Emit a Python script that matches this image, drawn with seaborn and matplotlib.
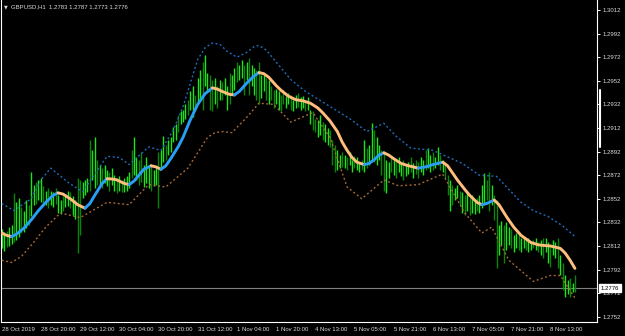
import numpy as np
import pandas as pd
import matplotlib
matplotlib.use("Agg")
import matplotlib.pyplot as plt
import seaborn as sns

# ---------------- data ----------------
symbol_text = "GBPUSD,H1  1.2783 1.2787 1.2773 1.2776"
last_price = 1.2776

highs = [
    1.2826, 1.2824, 1.2825, 1.2828, 1.2830, 1.2857, 1.2849, 1.2853, 1.2845, 1.2842,
    1.2851, 1.2847, 1.2875, 1.2864, 1.2866, 1.2868, 1.2870, 1.2863, 1.2859, 1.2861,
    1.2859, 1.2858, 1.2861, 1.2855, 1.2851, 1.2854, 1.2856, 1.2859, 1.2858, 1.2854,
    1.2851, 1.2870, 1.2868, 1.2866, 1.2868, 1.2870, 1.2902, 1.2893, 1.2904, 1.2885,
    1.2881, 1.2878, 1.2881, 1.2876, 1.2875, 1.2878, 1.2872, 1.2870, 1.2871, 1.2868,
    1.2870, 1.2871, 1.2875, 1.2893, 1.2904, 1.2887, 1.2885, 1.2892, 1.2881, 1.2887,
    1.2879, 1.2881, 1.2876, 1.2878, 1.2892, 1.2893, 1.2905, 1.2898, 1.2902, 1.2904,
    1.2913, 1.2915, 1.2923, 1.2926, 1.2927, 1.2932, 1.2936, 1.2943, 1.2948, 1.2940,
    1.2954, 1.2961, 1.2968, 1.2974, 1.2959, 1.2957, 1.2953, 1.2954, 1.2948, 1.2953,
    1.2951, 1.2954, 1.2948, 1.2959, 1.2957, 1.2963, 1.2968, 1.2965, 1.2970, 1.2965,
    1.2968, 1.2971, 1.2965, 1.2963, 1.2961, 1.2968, 1.2957, 1.2959, 1.2954, 1.2953,
    1.2948, 1.2944, 1.2945, 1.2943, 1.2940, 1.2944, 1.2939, 1.2942, 1.2940, 1.2936,
    1.2940, 1.2942, 1.2938, 1.2939, 1.2936, 1.2938, 1.2927, 1.2926, 1.2920, 1.2919,
    1.2923, 1.2917, 1.2915, 1.2912, 1.2910, 1.2902, 1.2898, 1.2893, 1.2889, 1.2892,
    1.2889, 1.2887, 1.2892, 1.2885, 1.2888, 1.2887, 1.2883, 1.2885, 1.2902, 1.2895,
    1.2898, 1.2916, 1.2910, 1.2904, 1.2898, 1.2893, 1.2892, 1.2885, 1.2883, 1.2887,
    1.2885, 1.2883, 1.2887, 1.2882, 1.2885, 1.2881, 1.2883, 1.2887, 1.2882, 1.2885,
    1.2883, 1.2887, 1.2885, 1.2893, 1.2895, 1.2889, 1.2892, 1.2887, 1.2896, 1.2889,
    1.2885, 1.2883, 1.2872, 1.2868, 1.2864, 1.2861, 1.2864, 1.2859, 1.2858, 1.2855,
    1.2858, 1.2853, 1.2855, 1.2851, 1.2853, 1.2855, 1.2864, 1.2874, 1.2868, 1.2875,
    1.2864, 1.2855, 1.2851, 1.2830, 1.2833, 1.2830, 1.2832, 1.2828, 1.2826, 1.2821,
    1.2823, 1.2821, 1.2819, 1.2820, 1.2817, 1.2819, 1.2815, 1.2817, 1.2819, 1.2815,
    1.2817, 1.2819, 1.2819, 1.2815, 1.2813, 1.2817, 1.2815, 1.2819, 1.2804, 1.2798,
    1.2787, 1.2783, 1.2785, 1.2781, 1.2787,
]

lows = [
    1.2810, 1.2808, 1.2811, 1.2812, 1.2814, 1.2815, 1.2817, 1.2820, 1.2823, 1.2824,
    1.2827, 1.2830, 1.2837, 1.2847, 1.2848, 1.2851, 1.2849, 1.2846, 1.2847, 1.2844,
    1.2847, 1.2845, 1.2848, 1.2840, 1.2839, 1.2842, 1.2845, 1.2846, 1.2844, 1.2838,
    1.2835, 1.2806, 1.2821, 1.2853, 1.2855, 1.2858, 1.2859, 1.2868, 1.2861, 1.2864,
    1.2864, 1.2861, 1.2865, 1.2863, 1.2859, 1.2864, 1.2859, 1.2857, 1.2859, 1.2858,
    1.2858, 1.2859, 1.2861, 1.2870, 1.2872, 1.2868, 1.2864, 1.2866, 1.2862, 1.2865,
    1.2861, 1.2859, 1.2863, 1.2864, 1.2844, 1.2878, 1.2883, 1.2885, 1.2889, 1.2892,
    1.2900, 1.2902, 1.2909, 1.2915, 1.2917, 1.2920, 1.2923, 1.2927, 1.2921, 1.2926,
    1.2932, 1.2936, 1.2927, 1.2948, 1.2944, 1.2927, 1.2926, 1.2932, 1.2929, 1.2936,
    1.2936, 1.2940, 1.2927, 1.2932, 1.2940, 1.2944, 1.2951, 1.2953, 1.2954, 1.2940,
    1.2953, 1.2940, 1.2948, 1.2940, 1.2936, 1.2932, 1.2937, 1.2943, 1.2936, 1.2932,
    1.2936, 1.2929, 1.2932, 1.2927, 1.2926, 1.2932, 1.2929, 1.2932, 1.2927, 1.2926,
    1.2929, 1.2930, 1.2927, 1.2929, 1.2926, 1.2927, 1.2915, 1.2910, 1.2909, 1.2904,
    1.2906, 1.2902, 1.2900, 1.2898, 1.2896, 1.2881, 1.2875, 1.2876, 1.2878, 1.2879,
    1.2878, 1.2876, 1.2881, 1.2875, 1.2878, 1.2876, 1.2875, 1.2876, 1.2875, 1.2878,
    1.2881, 1.2885, 1.2883, 1.2881, 1.2885, 1.2872, 1.2859, 1.2857, 1.2870, 1.2875,
    1.2872, 1.2870, 1.2875, 1.2871, 1.2868, 1.2871, 1.2873, 1.2875, 1.2870, 1.2873,
    1.2870, 1.2875, 1.2872, 1.2876, 1.2878, 1.2875, 1.2876, 1.2878, 1.2881, 1.2876,
    1.2875, 1.2870, 1.2855, 1.2842, 1.2847, 1.2851, 1.2853, 1.2847, 1.2840, 1.2838,
    1.2842, 1.2838, 1.2840, 1.2839, 1.2842, 1.2840, 1.2844, 1.2847, 1.2851, 1.2842,
    1.2847, 1.2834, 1.2793, 1.2804, 1.2813, 1.2798, 1.2809, 1.2813, 1.2810, 1.2807,
    1.2810, 1.2809, 1.2807, 1.2810, 1.2809, 1.2807, 1.2809, 1.2810, 1.2809, 1.2807,
    1.2804, 1.2802, 1.2807, 1.2798, 1.2794, 1.2804, 1.2802, 1.2793, 1.2787, 1.2775,
    1.2769, 1.2771, 1.2769, 1.2773, 1.2773,
]

# u = bar up (lime), d = bar down (green)
bar_dir = "".join([
    "uuduuduudu", "uduuduudud", "uuduuduudu", "udduuuduud", "uduuduudud",
    "uuuduudduu", "uduuduuduu", "uuduuuduud", "uuduuddudu", "duuduuduud",
    "uduudduudu", "dduudduudu", "uduuduuddu", "uduuddduud", "uduuduudud",
    "uuduudduud", "uduuduudud", "duuduuduud", "udduduudud", "uduuduuudd",
    "udduuduudu", "uduuduudud", "uduuduudud", "uudud",
])

mid_idx = [0, 2, 4, 6, 9, 12, 15, 18, 21, 23, 25, 28, 31, 34, 36, 38, 41, 43, 45, 47,
           50, 52, 54, 56, 58, 61, 63, 65, 67, 69, 72, 74, 77, 80, 83, 86, 88, 90, 93, 95,
           97, 100, 103, 105, 107, 109, 112, 114, 117, 120, 123, 126, 129, 131, 134, 137,
           139, 141, 143, 145, 148, 150, 152, 154, 156, 158, 160, 163, 166, 170, 173, 176,
           180, 182, 184, 186, 189, 191, 194, 196, 198, 201, 203, 206, 209, 212, 214, 216,
           219, 221, 224, 226, 228, 230, 232, 234]
mid_val = [1.2823, 1.2821, 1.2820, 1.2822, 1.2827, 1.2834, 1.2842, 1.2849, 1.2855, 1.2857,
           1.2856, 1.2852, 1.2847, 1.2844, 1.2848, 1.2855, 1.2865, 1.2869, 1.28688, 1.2868,
           1.2865, 1.2864, 1.2867, 1.2872, 1.2877, 1.2880, 1.2879, 1.2877, 1.2880, 1.2886,
           1.2896, 1.2904, 1.2919, 1.2932, 1.2941, 1.2946, 1.2945, 1.2943, 1.29405, 1.2940,
           1.2943, 1.2950, 1.2956, 1.2959, 1.2958, 1.2955, 1.2948, 1.2944, 1.2939, 1.2936,
           1.2935, 1.2933, 1.2929, 1.2925, 1.2918, 1.2909, 1.2900, 1.2893, 1.2887, 1.2883,
           1.2881, 1.2882, 1.2885, 1.2889, 1.2891, 1.2889, 1.2886, 1.2882, 1.2880, 1.2878,
           1.2879, 1.2881, 1.2883, 1.2880, 1.2874, 1.2868, 1.2860, 1.2855, 1.2849, 1.2847,
           1.2848, 1.2851, 1.2847, 1.2837, 1.2828, 1.2821, 1.2818, 1.2815, 1.2813, 1.28125,
           1.2812, 1.2811, 1.2810, 1.2806, 1.2800, 1.2793]

upper_idx = [0, 5, 12, 16, 20, 27, 33, 43, 48, 52, 60, 65, 70, 74, 80, 83, 86, 89, 92, 96,
             100, 103, 105, 108, 112, 118, 124, 131, 142, 149, 156, 161, 167, 176, 188,
             195, 202, 207, 212, 217, 223, 229, 234]
upper_val = [1.2848, 1.2842, 1.2852, 1.2868, 1.2878, 1.2866, 1.2858, 1.2888, 1.2887, 1.2881,
             1.2896, 1.2893, 1.2910, 1.2930, 1.2970, 1.2980, 1.2984, 1.2983, 1.2977, 1.2972,
             1.2976, 1.2981, 1.2982, 1.2978, 1.2968, 1.2953, 1.2943, 1.2934, 1.2920, 1.2909,
             1.2916, 1.2905, 1.2895, 1.2893, 1.2882, 1.2872, 1.2871, 1.2860, 1.2849, 1.2842,
             1.2837, 1.2829, 1.2820]

lower_idx = [0, 4, 8, 13, 18, 24, 32, 43, 52, 60, 67, 76, 80, 84, 87, 90, 94, 100, 105,
             111, 118, 127, 134, 141, 147, 156, 162, 170, 180, 189, 196, 200, 207, 217, 224,
             228, 234]
lower_val = [1.2800, 1.2798, 1.2803, 1.2815, 1.2828, 1.2840, 1.2836, 1.2849, 1.2847, 1.2864,
             1.2862, 1.2878, 1.2891, 1.2904, 1.2908, 1.2909, 1.2908, 1.2921, 1.2933, 1.2932,
             1.2917, 1.2925, 1.2904, 1.2862, 1.2852, 1.2868, 1.2863, 1.2864, 1.2873, 1.2840,
             1.2823, 1.2828, 1.2800, 1.2782, 1.2787, 1.2787, 1.2768]

time_tick_idx = [0, 16, 32, 48, 64, 80, 96, 112, 128, 144, 160, 176, 192, 208, 224]
time_tick_labels = ["28 Oct 2019", "28 Oct 20:00", "29 Oct 12:00", "30 Oct 04:00",
                    "30 Oct 20:00", "31 Oct 12:00", "1 Nov 04:00", "1 Nov 20:00",
                    "4 Nov 13:00", "5 Nov 05:00", "5 Nov 21:00", "6 Nov 13:00",
                    "7 Nov 05:00", "7 Nov 21:00", "8 Nov 13:00"]
price_ticks = [1.3012, 1.2992, 1.2972, 1.2952, 1.2932, 1.2912, 1.2892, 1.2872,
               1.2852, 1.2832, 1.2812, 1.2792, 1.2772, 1.2752]
price_tick_labels = ["1.3012", "1.2992", "1.2972", "1.2952", "1.2932", "1.2912", "1.2892",
                     "1.2872", "1.2852", "1.2832", "1.2812", "1.2792", "1.2772", "1.2752"]

# ---------------- styling ----------------
sns.set_theme(style="dark", rc={"axes.facecolor": "black", "figure.facecolor": "black"})
plt.rcParams['font.family'] = ['Liberation Sans', 'DejaVu Sans']

W, H = 625, 336
fig = plt.figure(figsize=(W / 100, H / 100), dpi=100, facecolor="black")
ax = fig.add_axes([1 / W, 14 / H, 596 / W, 322 / H])
ax.set_facecolor("black")

FG = "#DCDCDC"
UP_C = "#19E619"
DN_C = "#0A850A"
FS = 4.35

# bars
idx = np.arange(len(highs))
bar_colors = [UP_C if c == "u" else DN_C for c in bar_dir]
ax.vlines(idx, lows, highs, colors=bar_colors, linewidth=1.0, zorder=2)

# current price line
ax.axhline(last_price, color="#808080", linewidth=0.8, zorder=1)

# envelope bands (dotted)
df_up = pd.DataFrame({"i": upper_idx, "p": upper_val})
df_lo = pd.DataFrame({"i": lower_idx, "p": lower_val})
sns.lineplot(data=df_up, x="i", y="p", ax=ax, color="#1F6FC0", linewidth=1.0,
             linestyle=(0, (1.4, 1.8)), estimator=None, sort=False, zorder=3)
sns.lineplot(data=df_lo, x="i", y="p", ax=ax, color="#A86A35", linewidth=1.0,
             linestyle=(0, (1.4, 1.8)), estimator=None, sort=False, zorder=3)

# middle line: blue while rising, orange while falling
runs = []
cur = None
for k in range(len(mid_idx) - 1):
    rising = mid_val[k + 1] > mid_val[k]
    if cur is None or cur[0] != rising:
        cur = [rising, [k]]
        runs.append(cur)
    cur[1].append(k + 1)
for rising, ks in runs:
    d = pd.DataFrame({"i": [mid_idx[k] for k in ks], "p": [mid_val[k] for k in ks]})
    sns.lineplot(data=d, x="i", y="p", ax=ax, color="#2A9DF4" if rising else "#FFBE7D",
                 linewidth=2.1, estimator=None, sort=False, zorder=4,
                 solid_capstyle="round", solid_joinstyle="round")

# axes limits / ticks
ax.set_xlim(-0.29, 243.0)
ax.set_ylim(1.274759, 1.302047)
ax.set_xlabel("")
ax.set_ylabel("")
ax.grid(False)

ax.yaxis.tick_right()
ax.set_yticks(price_ticks)
ax.set_yticklabels(price_tick_labels)
ax.tick_params(axis="y", which="both", direction="out", length=2.5, width=0.7,
               color="white", labelsize=FS, labelcolor=FG, pad=1.8,
               left=False, right=True)
ax.set_xticks(time_tick_idx)
ax.set_xticklabels(time_tick_labels, ha="left")
ax.tick_params(axis="x", which="both", direction="out", length=2.5, width=0.7,
               color="white", labelsize=FS, labelcolor=FG, pad=1.0)

for side in ["left", "right", "bottom"]:
    ax.spines[side].set_visible(True)
    ax.spines[side].set_color("white")
    ax.spines[side].set_linewidth(0.8)
ax.spines["top"].set_visible(False)

# marker on price scale
ax.plot([1.0045, 1.0045], [1.2944, 1.2896], transform=ax.get_yaxis_transform(),
        color="white", linewidth=1.5, clip_on=False, zorder=5)

# current price box
ax.text(1.0 + 4 / 596, last_price, "1.2776", transform=ax.get_yaxis_transform(),
        ha="left", va="center", fontsize=FS, color="black", clip_on=False, zorder=6,
        bbox=dict(boxstyle="square,pad=0.25", fc="white", ec="white"))

# header
fig.text(3.5 / W, 1 - 7 / H, "▼", fontsize=3.5, color=FG, ha="left", va="center",
         family=["DejaVu Sans"])
fig.text(11 / W, 1 - 7 / H, symbol_text, fontsize=FS, color=FG, ha="left", va="center")

fig.savefig("out.png", dpi=100, facecolor="black")
